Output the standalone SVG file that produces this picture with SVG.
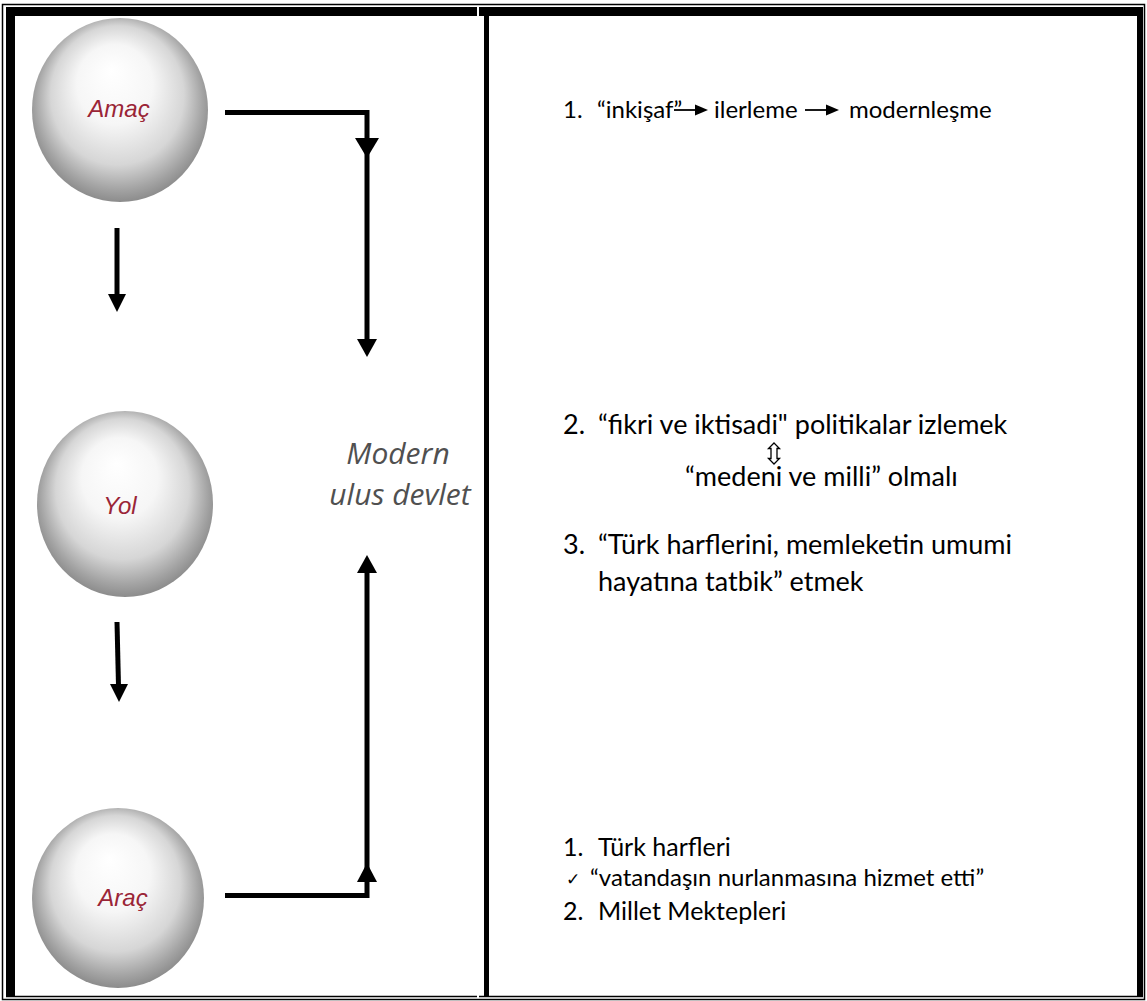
<svg xmlns="http://www.w3.org/2000/svg" width="1147" height="1001" viewBox="0 0 1147 1001">
<style>
.t{font-family:Lato,"Open Sans","Liberation Sans",sans-serif;font-size:27px;fill:#000}
.t1{font-size:24px}
.t2{font-size:25px}
.lbl{font-family:"Liberation Sans",Arial,sans-serif;font-style:italic;font-size:24px;fill:#9a2536;text-anchor:middle}
.md{font-family:"Open Sans",Lato,sans-serif;font-style:italic;font-size:30px;fill:#505050;text-anchor:middle}
.ln{stroke:#000;stroke-width:5;fill:none}
.ah{fill:#000}
</style>
<defs>
<radialGradient id="sph" cx="50%" cy="48%" r="54%" fx="45%" fy="28%">
<stop offset="0" stop-color="#ffffff"/>
<stop offset="0.4" stop-color="#f6f6f6"/>
<stop offset="0.7" stop-color="#d6d6d6"/>
<stop offset="0.88" stop-color="#a4a4a4"/>
<stop offset="1" stop-color="#858585"/>
</radialGradient>
</defs>
<rect width="1147" height="1001" fill="#fff"/>
<g id="frame">
<rect x="2.5" y="4.5" width="1142" height="995" fill="none" stroke="#000" stroke-width="1.5"/>
<rect x="6" y="7" width="471" height="9" fill="#000"/>
<rect x="479" y="7" width="664" height="9" fill="#000"/>
<rect x="6" y="7" width="9" height="990" fill="#000"/>
<rect x="1137" y="7" width="6" height="990" fill="#000"/>
<rect x="484" y="16" width="5" height="980" fill="#000"/>
<line x1="6" y1="996.5" x2="477" y2="996.5" stroke="#000" stroke-width="1.5"/>
<line x1="479" y1="996.5" x2="1143" y2="996.5" stroke="#000" stroke-width="1.5"/>
</g>
<g id="node-amac">
<ellipse cx="120" cy="110" rx="88" ry="92" fill="url(#sph)"/>
<text class="lbl" x="119" y="117">Amaç</text>
</g>
<g id="node-yol">
<ellipse cx="125" cy="504" rx="88" ry="93" fill="url(#sph)"/>
<text class="lbl" x="120" y="514">Yol</text>
</g>
<g id="node-arac">
<ellipse cx="118" cy="898" rx="86" ry="90" fill="url(#sph)"/>
<text class="lbl" x="123" y="906">Araç</text>
</g>
<g id="node-modern">
<text class="md" x="398" y="464">Modern</text>
<text class="md" x="400" y="505">ulus devlet</text>
</g>
<g id="connectors">
<line class="ln" x1="117" y1="228" x2="117" y2="296"/>
<polygon class="ah" points="108,294 126,294 117,312"/>
<line class="ln" x1="117" y1="622" x2="118.5" y2="686"/>
<polygon class="ah" points="110,684 128,684 119,702"/>
<polyline class="ln" points="225,112.5 367,112.5 367,342"/>
<polygon class="ah" points="355,138 379,138 367,158"/>
<polygon class="ah" points="357,339 377,339 367,357"/>
<polyline class="ln" points="225,895.5 367,895.5 367,570"/>
<polygon class="ah" points="357,573 377,573 367,555"/>
<polygon class="ah" points="357,882 377,882 367,863"/>
</g>
<g id="item1">
<text class="t t1" x="563" y="118">1.</text>
<text class="t t1" x="597" y="118">“inkişaf”</text>
<line x1="674" y1="110" x2="697" y2="110" stroke="#000" stroke-width="1.8"/>
<polygon class="ah" points="695,104.5 708,110 695,115.5"/>
<text class="t t1" x="714" y="118">ilerleme</text>
<line x1="805" y1="110" x2="828" y2="110" stroke="#000" stroke-width="1.8"/>
<polygon class="ah" points="826,104.5 839,110 826,115.5"/>
<text class="t t1" x="849" y="118">modernleşme</text>
</g>
<g id="item2">
<text class="t" x="563" y="434">2.</text>
<text class="t" x="598" y="434">“fikri ve iktisadi" politikalar izlemek</text>
<polygon points="774,443 779.5,448.5 777,448.5 777,458.5 779.5,458.5 774,464 768.5,458.5 771,458.5 771,448.5 768.5,448.5" fill="none" stroke="#000" stroke-width="1.3"/>
<text class="t" x="685" y="486">“medeni ve milli” olmalı</text>
</g>
<g id="item3">
<text class="t" x="563" y="554">3.</text>
<text class="t" x="598" y="554">“Türk harflerini, memleketin umumi</text>
<text class="t" x="598" y="591">hayatına tatbik” etmek</text>
</g>
<g id="list">
<text class="t t2" x="563" y="856">1.</text>
<text class="t t2" x="598" y="856">Türk harfleri</text>
<text x="566" y="885" style="font-family:'DejaVu Sans',sans-serif;font-size:17px">✓</text>
<text class="t" x="590" y="886" style="font-size:24px">“vatandaşın nurlanmasına hizmet etti”</text>
<text class="t t2" x="563" y="920">2.</text>
<text class="t t2" x="598" y="920">Millet Mektepleri</text>
</g>
</svg>
